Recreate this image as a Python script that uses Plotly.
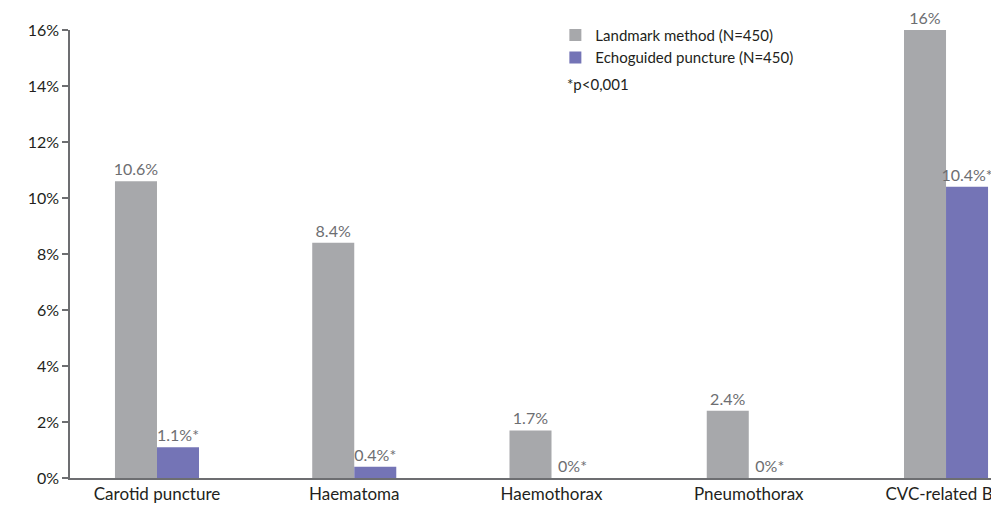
import plotly.graph_objects as go

# Complication rates (%) by catheter insertion technique
categories = ["Carotid puncture", "Haematoma", "Haemothorax", "Pneumothorax", "CVC-related BSI"]
landmark = [10.6, 8.4, 1.7, 2.4, 16]
echoguided = [1.1, 0.4, 0, 0, 10.4]
landmark_labels = ["10.6%", "8.4%", "1.7%", "2.4%", "16%"]
echoguided_labels = ["1.1%*", "0.4%*", "0%*", "0%*", "10.4%*"]
y_ticks = [0, 2, 4, 6, 8, 10, 12, 14, 16]
y_tick_text = [f"{v}%" for v in y_ticks]

GRAY = "#a7a8ab"
PURPLE = "#7474b6"
LABEL = "#6d6e71"
DARK = "#231f20"
FONT = "Lato, Open Sans, sans-serif"

fig = go.Figure()
fig.add_trace(go.Bar(
    x=categories, y=landmark, name="Landmark method (N=450)",
    marker=dict(color=GRAY, line=dict(width=0)),
    text=landmark_labels, textposition="outside", constraintext="none",
    textfont=dict(size=16, color=LABEL, family=FONT),
    cliponaxis=False,
))
fig.add_trace(go.Bar(
    x=categories, y=echoguided, name="Echoguided puncture (N=450)",
    marker=dict(color=PURPLE, line=dict(width=0)),
    text=echoguided_labels, textposition="outside", constraintext="none",
    textfont=dict(size=16, color=LABEL, family=FONT),
    cliponaxis=False,
))

fig.add_annotation(
    text="*p<0,001", xref="paper", yref="paper",
    x=0.538, y=0.88, xanchor="left", yanchor="middle",
    showarrow=False, font=dict(size=15, color=DARK, family=FONT),
)

fig.update_layout(
    width=991, height=506,
    margin=dict(l=70, r=0, t=30, b=28, autoexpand=False),
    paper_bgcolor="white", plot_bgcolor="white",
    barmode="group", bargap=0.574, bargroupgap=0,
    font=dict(family=FONT, color=DARK),
    showlegend=True,
    legend=dict(
        x=0.527, y=1.025, xanchor="left", yanchor="top",
        font=dict(size=15, color=DARK, family=FONT),
        bgcolor="rgba(0,0,0,0)", tracegroupgap=0,
        itemwidth=30,
    ),
    xaxis=dict(
        range=[-0.441, 4.228], automargin=False,
        showline=True, linecolor="#6d6e71", linewidth=1.5,
        ticks="", showgrid=False, zeroline=False,
        tickfont=dict(size=17, color=DARK, family=FONT),
    ),
    yaxis=dict(
        range=[0, 16], tickmode="array", tickvals=y_ticks, ticktext=y_tick_text,
        automargin=False,
        showline=True, linecolor="#6d6e71", linewidth=1.5,
        ticks="outside", ticklen=6, tickcolor="#6d6e71", tickwidth=1.5,
        showgrid=False, zeroline=False,
        tickfont=dict(size=16, color=DARK, family=FONT),
    ),
)

fig.write_html("out.html")
